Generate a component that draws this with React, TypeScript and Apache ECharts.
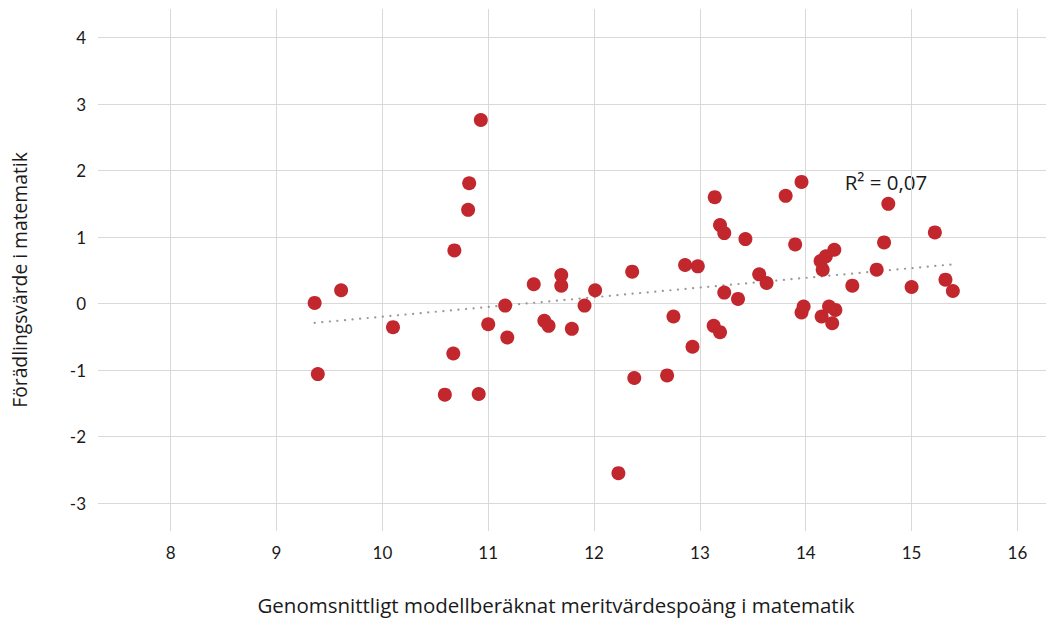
import React, { useEffect, useRef } from "react";
import * as echarts from "echarts";

const pointX = [
  9.36, 9.39, 9.61, 10.10, 10.59, 10.67, 10.68, 10.81, 10.82, 10.91,
  10.93, 11.00, 11.16, 11.18, 11.43, 11.53, 11.57, 11.69, 11.69, 11.79,
  11.91, 12.01, 12.23, 12.36, 12.38, 12.69, 12.75, 12.86, 12.93, 12.98,
  13.13, 13.14, 13.19, 13.19, 13.23, 13.23, 13.36, 13.43, 13.56, 13.63,
  13.81, 13.90, 13.96, 13.96, 13.98, 14.14, 14.15, 14.16, 14.19, 14.22,
  14.25, 14.27, 14.28, 14.44, 14.67, 14.74, 14.78, 15.00, 15.22, 15.32,
  15.39,
];
const pointY = [
  0.01, -1.06, 0.20, -0.355, -1.37, -0.75, 0.80, 1.41, 1.81, -1.36,
  2.76, -0.31, -0.03, -0.51, 0.29, -0.26, -0.335, 0.43, 0.27, -0.38,
  -0.03, 0.20, -2.55, 0.48, -1.12, -1.08, -0.195, 0.58, -0.65, 0.56,
  -0.335, 1.60, 1.18, -0.43, 1.06, 0.165, 0.07, 0.97, 0.44, 0.31,
  1.62, 0.89, 1.83, -0.135, -0.045, 0.64, -0.195, 0.51, 0.71, -0.045,
  -0.295, 0.81, -0.095, 0.27, 0.51, 0.92, 1.50, 0.25, 1.07, 0.36,
  0.19,
];
const trendX = [9.36, 15.39];
const trendY = [-0.29, 0.59];
const rSquaredLabel = "R² = 0,07";
const xAxisTitle = "Genomsnittligt modellberäknat meritvärdespoäng i matematik";
const yAxisTitle = "Förädlingsvärde i matematik";

const TICK_FONT = "Lato, 'Noto Sans', sans-serif";
const TITLE_FONT = "'Open Sans', 'Noto Sans', sans-serif";

export default function App() {
  const ref = useRef<HTMLDivElement>(null);
  useEffect(() => {
    if (!ref.current) return;
    const chart = echarts.init(ref.current, null, { renderer: "svg" });
    const scatterData = pointX.map((x, i) => [x, pointY[i]]);
    const trendData = trendX.map((x, i) => [x, trendY[i]]);
    chart.setOption({
      animation: false,
      backgroundColor: "#ffffff",
      textStyle: { fontFamily: TICK_FONT },
      grid: { left: 98, right: 0, top: 9, bottom: 87, containLabel: false },
      xAxis: {
        type: "value",
        min: 7.313,
        max: 16.27,
        minInterval: 1,
        maxInterval: 1,
        axisLine: { show: false },
        axisTick: { show: false },
        axisLabel: {
          showMinLabel: false,
          showMaxLabel: false,
          margin: 13,
          fontSize: 17,
          color: "#1a1a1a",
          fontFamily: TICK_FONT,
        },
        splitLine: {
          show: true,
          showMinLine: false,
          showMaxLine: false,
          lineStyle: { color: "#d9d9d9", width: 1 },
        },
      },
      yAxis: {
        type: "value",
        min: -3.42,
        max: 4.43,
        minInterval: 1,
        maxInterval: 1,
        axisLine: { show: false },
        axisTick: { show: false },
        axisLabel: {
          showMinLabel: false,
          showMaxLabel: false,
          margin: 12,
          fontSize: 17,
          color: "#1a1a1a",
          fontFamily: TICK_FONT,
        },
        splitLine: {
          show: true,
          showMinLine: false,
          showMaxLine: false,
          lineStyle: { color: "#d9d9d9", width: 1 },
        },
      },
      graphic: [
        {
          type: "text",
          x: 556,
          y: 605,
          style: {
            text: xAxisTitle,
            fontSize: 20.5,
            fontFamily: TITLE_FONT,
            fill: "#1a1a1a",
            align: "center",
            verticalAlign: "middle",
          },
        },
        {
          type: "text",
          x: 19,
          y: 280,
          rotation: Math.PI / 2,
          style: {
            text: yAxisTitle,
            fontSize: 19.3,
            fontFamily: TITLE_FONT,
            fill: "#1a1a1a",
            align: "center",
            verticalAlign: "middle",
          },
        },
        {
          type: "text",
          x: 886,
          y: 182,
          style: {
            text: rSquaredLabel,
            fontSize: 20.5,
            fontFamily: TITLE_FONT,
            fill: "#1a1a1a",
            align: "center",
            verticalAlign: "middle",
          },
        },
      ],
      series: [
        {
          type: "line",
          data: trendData,
          showSymbol: false,
          silent: true,
          z: 1,
          lineStyle: { color: "#999999", width: 2.2, type: [0.1, 7.5], cap: "round" },
        },
        {
          type: "scatter",
          data: scatterData,
          symbolSize: 14,
          z: 2,
          itemStyle: { color: "#c1272d", opacity: 1 },
        },
      ],
    });
    return () => chart.dispose();
  }, []);
  return (
    <div
      ref={ref}
      style={{ position: "fixed", left: 0, top: 0, width: 1046, height: 618 }}
    />
  );
}
